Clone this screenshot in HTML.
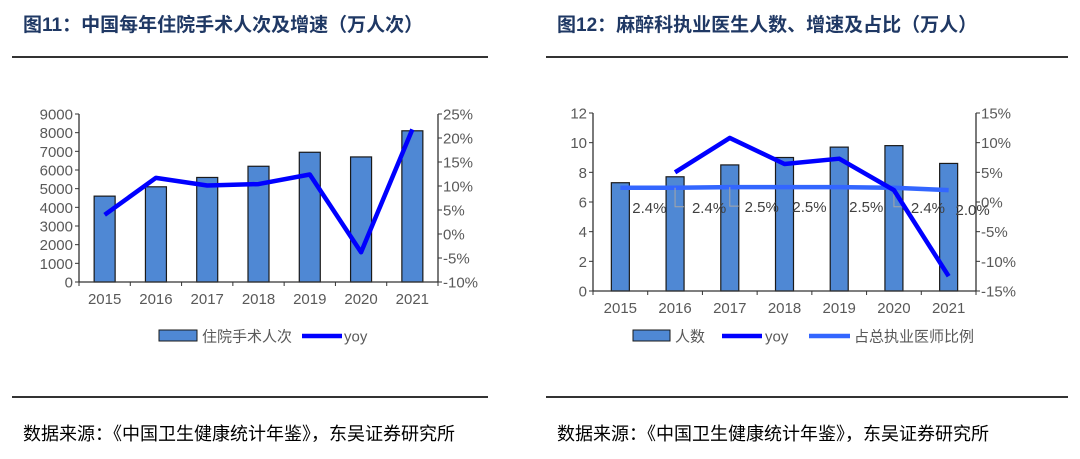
<!DOCTYPE html>
<html><head><meta charset="utf-8">
<style>
body{margin:0;background:#fff;width:1080px;height:459px;overflow:hidden;position:relative;font-family:"Liberation Sans","Noto Sans CJK SC",sans-serif;}
.t{position:absolute;top:10px;font-size:19px;font-weight:bold;color:#1f3864;white-space:nowrap;}
.f{position:absolute;top:420px;font-size:18px;color:#000;white-space:nowrap;}
.hl{position:absolute;height:2px;background:#333;}
svg{position:absolute;left:0;top:0}
</style></head><body>
<div class="t" style="left:23px">图11：中国每年住院手术人次及增速（万人次）</div>
<div class="t" style="left:557px">图12：麻醉科执业医生人数、增速及占比（万人）</div>
<div class="hl" style="left:12px;width:476px;top:56px"></div>
<div class="hl" style="left:546px;width:522px;top:56px"></div>
<div class="hl" style="left:12px;width:476px;top:396px"></div>
<div class="hl" style="left:546px;width:522px;top:396px"></div>
<div class="f" style="left:23px">数据来源：《中国卫生健康统计年鉴》，东吴证券研究所</div>
<div class="f" style="left:557px">数据来源：《中国卫生健康统计年鉴》，东吴证券研究所</div>
<svg id="s" width="1080" height="459"></svg>
<script>
const years=["2015","2016","2017","2018","2019","2020","2021"];
const surgery=[4600,5100,5600,6200,6950,6700,8100];
const surgeryYoy=[4.0,11.7,10.1,10.4,12.4,-3.8,21.8];
const leftTicks1=[0,1000,2000,3000,4000,5000,6000,7000,8000,9000];
const rightTicks1=[-10,-5,0,5,10,15,20,25];
const doctors=[7.3,7.7,8.5,9.0,9.7,9.8,8.6];
const doctorYoy=[null,5.0,10.8,6.4,7.3,2.0,-12.5];
const doctorShare=[2.4,2.4,2.5,2.5,2.5,2.4,2.0];
const shareLabels=["2.4%","2.4%","2.5%","2.5%","2.5%","2.4%","2.0%"];
const leftTicks2=[0,2,4,6,8,10,12];
const rightTicks2=[-15,-10,-5,0,5,10,15];

const S=document.getElementById('s');const NS="http://www.w3.org/2000/svg";
function el(t,a,txt){const e=document.createElementNS(NS,t);for(const k in a)e.setAttribute(k,a[k]);if(txt!==undefined)e.textContent=txt;S.appendChild(e);return e;}
const FONT='"Liberation Sans","Noto Sans CJK SC",sans-serif';
const labelOff=[29,34,32,25,27,34,24];
const leaders=[false,true,true,false,false,true,false];

function chart(o){
  const {x0,x1,y0,y1,lmin,lmax,rmin,rmax,bw,pre}=o;
  const n=years.length,step=(x1-x0)/n;
  const cx=i=>x0+step*(i+0.5);
  const yl=v=>y1-(v-lmin)/(lmax-lmin)*(y1-y0);
  const yr=v=>y1-(v-rmin)/(rmax-rmin)*(y1-y0);
  let e;
  o.bars.forEach((v,i)=>{e=el('rect',{x:cx(i)-bw/2,y:yl(v),width:bw,height:y1-yl(v),fill:'#4f88d4',stroke:'#1a1a1a','stroke-width':1.2});
    });
  e=el('line',{x1:x0,y1:y0,x2:x0,y2:y1,stroke:'#333','stroke-width':1.3});
  e=el('line',{x1:x1,y1:y0,x2:x1,y2:y1,stroke:'#333','stroke-width':1.3});
  e=el('line',{x1:x0,y1:y1,x2:x1,y2:y1,stroke:'#333','stroke-width':1.3});
  for(let i=0;i<=n;i++)el('line',{x1:x0+step*i,y1:y1,x2:x0+step*i,y2:y1+4,stroke:'#333'});
  o.lt.forEach(v=>{el('line',{x1:x0-4,y1:yl(v),x2:x0,y2:yl(v),stroke:'#333'});
    e=el('text',{x:x0-6,y:yl(v)+5.5,'text-anchor':'end','font-size':15,fill:'#595959','font-family':FONT},v);});
  o.rt.forEach(v=>{el('line',{x1:x1,y1:yr(v),x2:x1+4,y2:yr(v),stroke:'#333'});
    e=el('text',{x:x1+5,y:yr(v)+5.5,'font-size':15,fill:'#595959','font-family':FONT},v+'%');});
  years.forEach((y,i)=>{e=el('text',{x:cx(i),y:y1+22,'text-anchor':'middle','font-size':15,fill:'#595959','font-family':FONT},y);});
  if(o.share){
    const pts=o.share.map((v,i)=>cx(i)+','+yr(v)).join(' ');
    e=el('polyline',{points:pts,fill:'none',stroke:'#3366ff','stroke-width':4.5,'stroke-linejoin':'round'});
    o.share.forEach((v,i)=>{
      if(leaders[i]){e=el('polyline',{points:`${cx(i)},${yr(v)} ${cx(i)},${yr(v)+19} ${cx(i)+9},${yr(v)+19}`,fill:'none',stroke:'#a6a6a6','stroke-width':1});}
      e=el('text',{x:cx(i)+labelOff[i],y:yr(v)+25,'text-anchor':'middle','font-size':15,fill:'#404040','font-family':FONT},shareLabels[i]);});
  }
  const p=[];o.yoy.forEach((v,i)=>{if(v!==null)p.push(cx(i)+','+yr(v));});
  e=el('polyline',{points:p.join(' '),fill:'none',stroke:'#0000ff','stroke-width':4.5,'stroke-linejoin':'round'});
}
chart({pre:'chart11',x0:79,x1:438,y0:114,y1:282,lmin:0,lmax:9000,rmin:-10,rmax:25,bw:21,bars:surgery,yoy:surgeryYoy,lt:leftTicks1,rt:rightTicks1});
chart({pre:'chart12',x0:593,x1:976,y0:113,y1:291,lmin:0,lmax:12,rmin:-15,rmax:15,bw:18,bars:doctors,yoy:doctorYoy,share:doctorShare,lt:leftTicks2,rt:rightTicks2});
let e;
e=el('rect',{x:159,y:330,width:38,height:11,fill:'#4f88d4',stroke:'#1a1a1a'});
e=el('text',{x:202,y:341.5,'font-size':15,fill:'#595959','font-family':FONT},'住院手术人次');
e=el('line',{x1:302,y1:336,x2:342,y2:336,stroke:'#0000ff','stroke-width':4.5});
e=el('text',{x:344,y:341.5,'font-size':15,fill:'#595959','font-family':FONT},'yoy');
e=el('rect',{x:633,y:330,width:37,height:11,fill:'#4f88d4',stroke:'#1a1a1a'});
e=el('text',{x:675,y:341.5,'font-size':15,fill:'#595959','font-family':FONT},'人数');
e=el('line',{x1:722,y1:336,x2:762,y2:336,stroke:'#0000ff','stroke-width':4.5});
e=el('text',{x:765,y:341.5,'font-size':15,fill:'#595959','font-family':FONT},'yoy');
e=el('line',{x1:809,y1:336,x2:850,y2:336,stroke:'#3366ff','stroke-width':4.5});
e=el('text',{x:854,y:341.5,'font-size':15,fill:'#595959','font-family':FONT},'占总执业医师比例');
</script>
</body></html>
